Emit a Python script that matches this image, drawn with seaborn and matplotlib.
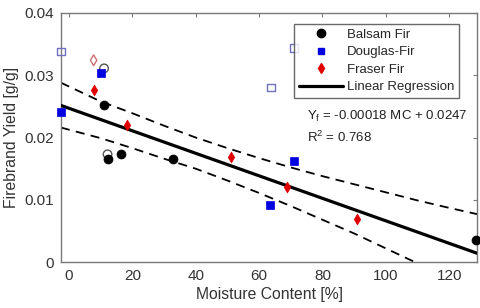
import matplotlib
matplotlib.use("Agg")
import matplotlib.pyplot as plt
from matplotlib.lines import Line2D
import numpy as np
import pandas as pd
import seaborn as sns


# -------------------------------------------------------------------------------------------
# Data

balsam_x = [11.1, 12.2, 16.6, 32.7, 128.5]
balsam_y = [0.0253, 0.0166, 0.0173, 0.0166, 0.0035]
balsam_open_x = [11.1, 12.2]
balsam_open_y = [0.0311, 0.0173]

douglas_x = [-2.5, 10.1, 63.6, 71.1]
douglas_y = [0.0241, 0.0303, 0.0091, 0.0163]
douglas_open_x = [-2.5, 63.7, 71.1]
douglas_open_y = [0.0338, 0.0280, 0.0344]

fraser_x = [7.8, 18.2, 51.2, 68.7, 91.0]
fraser_y = [0.0276, 0.0220, 0.0168, 0.0120, 0.0070]
fraser_open_x = [7.8]
fraser_open_y = [0.0324]

reg_x = [-2.5, 128.8]
reg_y = [0.02515, 0.00142]

band_x = [-2.5, 10, 20, 30, 40, 50, 60, 70, 80, 90, 100, 110, 120, 128.8]
band_upper = [0.0288, 0.0258, 0.0239, 0.0219, 0.0200, 0.0183, 0.0167, 0.0152, 0.0138, 0.0125, 0.0112, 0.0099, 0.0087, 0.0077]
band_lower = [0.0216, 0.0199, 0.0183, 0.0166, 0.0150, 0.0131, 0.0111, 0.0090, 0.0068, 0.0046, 0.0022, -0.0002, -0.0027, -0.0047]

eq_text = r"Y$_\mathregular{f}$ = -0.00018 MC + 0.0247"
r2_text = r"R$^\mathregular{2}$ = 0.768"


# -------------------------------------------------------------------------------------------
# Style

sns.set_style("white")
plt.rcParams["font.family"] = ["Liberation Sans", "DejaVu Sans"]
plt.rcParams["xtick.direction"] = "in"
plt.rcParams["ytick.direction"] = "in"

axis_gray = "#7a7a7a"
text_gray = "#333333"

fig = plt.figure(figsize=(4.8, 3.08), dpi=100)
ax = fig.add_axes([0.127, 0.149, 0.867, 0.809])


# -------------------------------------------------------------------------------------------
# Bands + regression

band_df = pd.DataFrame({"x": band_x, "upper": band_upper, "lower": band_lower})
for col in ["upper", "lower"]:
    sns.lineplot(data=band_df, x="x", y=col, ax=ax, color="black", lw=1.3,
                 dashes=False, linestyle=(0, (5, 3.5)), zorder=2)

reg_df = pd.DataFrame({"x": reg_x, "y": reg_y})
sns.lineplot(data=reg_df, x="x", y="y", ax=ax, color="black", lw=2.3, zorder=3)


# -------------------------------------------------------------------------------------------
# Points

sns.scatterplot(x=balsam_open_x, y=balsam_open_y, ax=ax, marker="o", s=38,
                facecolor="none", edgecolor="#555555", linewidth=1.0, zorder=4, clip_on=False)
sns.scatterplot(x=douglas_open_x, y=douglas_open_y, ax=ax, marker="s", s=30,
                facecolor="none", edgecolor="#7070c0", linewidth=1.0, zorder=4, clip_on=False)
sns.scatterplot(x=fraser_open_x, y=fraser_open_y, ax=ax, marker="d", s=30,
                facecolor="none", edgecolor="#d07070", linewidth=1.0, zorder=4, clip_on=False)

sns.scatterplot(x=balsam_x, y=balsam_y, ax=ax, marker="o", s=42,
                color="black", edgecolor="black", linewidth=0.5, zorder=5, clip_on=False)
sns.scatterplot(x=douglas_x, y=douglas_y, ax=ax, marker="s", s=30,
                color="#0000e0", edgecolor="#0000e0", linewidth=0.5, zorder=5, clip_on=False)
sns.scatterplot(x=fraser_x, y=fraser_y, ax=ax, marker="d", s=30,
                color="#e00000", edgecolor="#e00000", linewidth=0.5, zorder=5)


# -------------------------------------------------------------------------------------------
# Axes

ax.set_xlim(-2.5, 128.8)
ax.set_ylim(0, 0.04)
ax.set_xticks([0, 20, 40, 60, 80, 100, 120])
ax.set_yticks([0, 0.01, 0.02, 0.03, 0.04])
ax.set_yticklabels(["0", "0.01", "0.02", "0.03", "0.04"])
ax.tick_params(axis="both", which="both", top=True, right=True, length=3,
               width=0.8, color=axis_gray, labelsize=11, labelcolor=text_gray, pad=5)
for sp in ax.spines.values():
    sp.set_color(axis_gray)
    sp.set_linewidth(1.0)

ax.set_xlabel("Moisture Content [%]", fontsize=11.3, color=text_gray, labelpad=3)
ax.set_ylabel("Firebrand Yield [g/g]", fontsize=11.3, color=text_gray, labelpad=4)

ax.text(75.2, 0.0234, eq_text, fontsize=9.5, color="#222222", va="center")
ax.text(75.2, 0.0200, r2_text, fontsize=9.5, color="#222222", va="center")


# -------------------------------------------------------------------------------------------
# Legend

handles = [
    Line2D([], [], marker="o", color="black", linestyle="none", markersize=6),
    Line2D([], [], marker="s", color="#0000e0", linestyle="none", markersize=5),
    Line2D([], [], marker="d", color="#e00000", linestyle="none", markersize=5.5),
    Line2D([], [], color="black", lw=2.3),
]
labels = ["Balsam Fir", "Douglas-Fir", "Fraser Fir", "Linear Regression"]
leg = ax.legend(handles, labels, loc="upper right", bbox_to_anchor=(0.957, 0.956),
                borderaxespad=0, fontsize=9.5, frameon=True, fancybox=False,
                handlelength=3.3, handletextpad=0.35, borderpad=0.35, labelspacing=0.4)
leg.get_frame().set_edgecolor("#444444")
leg.get_frame().set_linewidth(1.0)

plt.savefig("out.png", dpi=100)
